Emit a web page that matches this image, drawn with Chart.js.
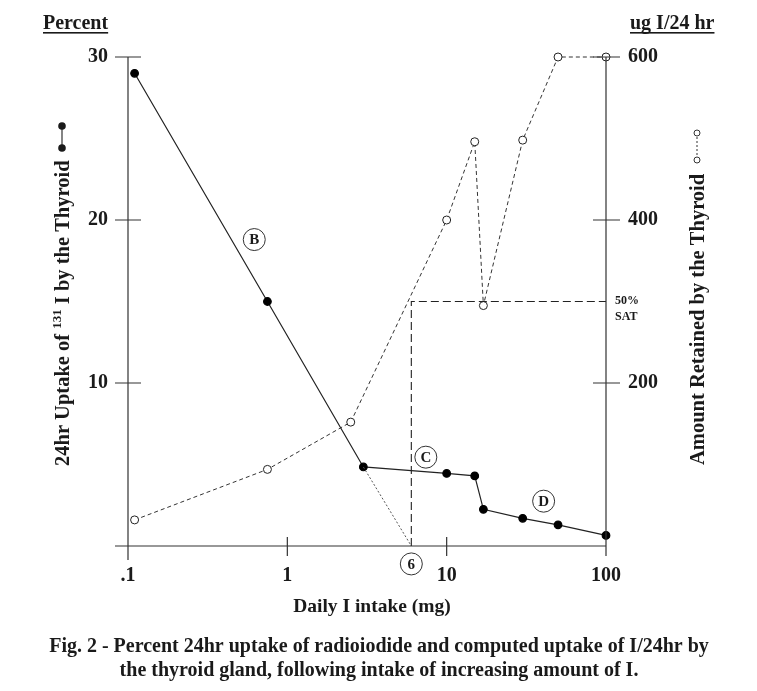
<!DOCTYPE html>
<html>
<head>
<meta charset="utf-8">
<script src="https://cdn.jsdelivr.net/npm/chart.js@4/dist/chart.umd.min.js"></script>
<style>
  body { margin: 0; background: #fff; }
  #wrap { width: 757px; height: 691px; }
</style>
</head>
<body>
<div id="wrap"><canvas id="chart" width="757" height="691"></canvas></div>
<script>
// --- Data ---
const uptakeDose = [0.11, 0.75, 3, 10, 15, 17, 30, 50, 100];       // mg / day
const uptakePct  = [29, 15, 4.85, 4.45, 4.3, 2.25, 1.7, 1.3, 0.65];  // % 24hr uptake
const retainedDose = [0.11, 0.75, 2.5, 10, 15, 17, 30, 50, 100];
const retainedUg   = [32, 94, 152, 400, 496, 295, 498, 600, 600];    // ug I / 24hr
const extrapDose = [3, 6];
const extrapPct  = [4.85, 0];
const satDose = [6, 6, 100];
const satUg   = [0, 300, 300];
const xTicks = [0.1, 1, 10, 100];
const xTickLabels = ['.1', '1', '10', '100'];
const yTicks = [10, 20, 30];
const y2Ticks = [200, 400, 600];
const markLabels = ['B', 'C', 'D', '6'];
const markDose = [0.62, 7.4, 40.6, 6];
const markPct  = [18.8, 5.45, 2.75, -1.1];

const pts = (xs, ys) => xs.map((x, i) => ({ x: x, y: ys[i] }));
const SERIF = '"Liberation Serif", "DejaVu Serif", serif';
const INK = '#1a1a1a';

// axes, ticks, titles, caption
const decor = {
    id: 'decor',
    afterDraw(chart) {
        const ctx = chart.ctx;
        const x = chart.scales.x, y = chart.scales.y, y2 = chart.scales.y2;
        const a = chart.chartArea;
        ctx.save();
        ctx.strokeStyle = '#333';
        ctx.lineWidth = 1.2;
        ctx.setLineDash([]);
        ctx.beginPath();
        // left axis
        ctx.moveTo(a.left, a.top); ctx.lineTo(a.left, a.bottom + 14);
        // bottom axis
        ctx.moveTo(a.left - 13, a.bottom); ctx.lineTo(a.right, a.bottom);
        // right axis
        ctx.moveTo(a.right, a.top); ctx.lineTo(a.right, a.bottom + 10);
        yTicks.forEach(v => { const p = y.getPixelForValue(v); ctx.moveTo(a.left - 13, p); ctx.lineTo(a.left + 13, p); });
        y2Ticks.forEach(v => { const p = y2.getPixelForValue(v); ctx.moveTo(a.right - 13, p); ctx.lineTo(a.right + 14, p); });
        xTicks.slice(1, 3).forEach(v => { const p = x.getPixelForValue(v); ctx.moveTo(p, a.bottom - 9); ctx.lineTo(p, a.bottom + 10); });
        ctx.stroke();

        ctx.fillStyle = INK;
        ctx.font = 'bold 20px ' + SERIF;
        ctx.textBaseline = 'middle';
        ctx.textAlign = 'right';
        yTicks.forEach(v => ctx.fillText(String(v), a.left - 20, y.getPixelForValue(v)));
        ctx.textAlign = 'left';
        y2Ticks.forEach(v => ctx.fillText(String(v), a.right + 22, y2.getPixelForValue(v)));
        ctx.textAlign = 'center';
        xTicks.forEach((v, i) => ctx.fillText(xTickLabels[i], x.getPixelForValue(v), a.bottom + 30));

        // unit headers, underlined
        ctx.textAlign = 'left';
        ctx.textBaseline = 'alphabetic';
        const under = (t, tx, ty) => {
            ctx.fillText(t, tx, ty);
            const w = ctx.measureText(t).width;
            ctx.fillRect(tx, ty + 3, w, 1.6);
        };
        under('Percent', 43, 29);
        under('ug I/24 hr', 630, 29);

        // x title
        ctx.textAlign = 'center';
        ctx.font = 'bold 19.5px ' + SERIF;
        ctx.fillText('Daily I intake (mg)', 372, 612);

        // caption
        ctx.font = 'bold 20px ' + SERIF;
        ctx.fillText('Fig. 2 - Percent 24hr uptake of radioiodide and computed uptake of I/24hr by', 379, 652);
        ctx.fillText('the thyroid gland, following intake of increasing amount of I.', 379, 676);

        // 50% SAT note
        ctx.font = 'bold 12px ' + SERIF;
        ctx.textAlign = 'left';
        ctx.fillText('50%', 615, 304);
        ctx.fillText('SAT', 615, 320);

        // left rotated title
        ctx.save();
        ctx.translate(69, 466);
        ctx.rotate(-Math.PI / 2);
        ctx.textAlign = 'left';
        let cx = 0;
        const part = (t, f, dy) => { ctx.font = f; ctx.fillText(t, cx, dy); cx += ctx.measureText(t).width; };
        part('24hr Uptake of ', 'bold 20.5px ' + SERIF, 0);
        part('131', 'bold 13px ' + SERIF, -8);
        part(' I by the Thyroid', 'bold 20.5px ' + SERIF, 0);
        ctx.restore();
        // left legend glyph
        ctx.beginPath();
        ctx.moveTo(62, 126); ctx.lineTo(62, 148); ctx.stroke();
        [126, 148].forEach(cy => { ctx.beginPath(); ctx.arc(62, cy, 3.8, 0, Math.PI * 2); ctx.fill(); });

        // right rotated title
        ctx.save();
        ctx.translate(704, 465);
        ctx.rotate(-Math.PI / 2);
        ctx.textAlign = 'left';
        ctx.font = 'bold 20.5px ' + SERIF;
        ctx.fillText('Amount Retained by the Thyroid', 0, 0);
        ctx.restore();
        // right legend glyph
        ctx.lineWidth = 1;
        ctx.setLineDash([2, 2]);
        ctx.beginPath(); ctx.moveTo(697, 137); ctx.lineTo(697, 156); ctx.stroke();
        ctx.setLineDash([]);
        [133, 160].forEach(cy => { ctx.beginPath(); ctx.arc(697, cy, 3, 0, Math.PI * 2); ctx.fillStyle = '#fff'; ctx.fill(); ctx.stroke(); });

        // circled markers
        ctx.fillStyle = INK;
        ctx.font = 'bold 15px ' + SERIF;
        ctx.textAlign = 'center';
        ctx.textBaseline = 'middle';
        markLabels.forEach((t, i) => {
            const px = x.getPixelForValue(markDose[i]);
            const py = y.getPixelForValue(markPct[i]);
            ctx.beginPath();
            ctx.arc(px, py, 11, 0, Math.PI * 2);
            ctx.fillStyle = '#fff'; ctx.fill();
            ctx.strokeStyle = '#333'; ctx.stroke();
            ctx.fillStyle = INK;
            ctx.fillText(t, px, py + 1);
        });
        ctx.restore();
    }
};

new Chart(document.getElementById('chart'), {
    type: 'line',
    data: {
        datasets: [
            { data: pts(satDose, satUg), yAxisID: 'y2', borderColor: '#222', borderWidth: 1.1, borderDash: [8, 4], pointRadius: 0, fill: false, clip: false },
            { data: pts(extrapDose, extrapPct), yAxisID: 'y', borderColor: '#555', borderWidth: 1, borderDash: [2, 2], pointRadius: 0, fill: false, clip: false },
            { data: pts(retainedDose, retainedUg), yAxisID: 'y2', borderColor: '#333', borderWidth: 1, borderDash: [4, 3], pointRadius: 4, pointBackgroundColor: '#fff', pointBorderColor: '#222', pointBorderWidth: 1, fill: false, clip: false },
            { data: pts(uptakeDose, uptakePct), yAxisID: 'y', borderColor: '#222', borderWidth: 1.2, pointRadius: 3.8, pointBackgroundColor: '#000', pointBorderColor: '#000', fill: false, clip: false }
        ]
    },
    options: {
        responsive: false,
        animation: false,
        layout: { padding: { left: 128, right: 151, top: 57, bottom: 145 } },
        plugins: { legend: { display: false }, tooltip: { enabled: false } },
        scales: {
            x: { type: 'logarithmic', min: 0.1, max: 100, display: false },
            y: { type: 'linear', min: 0, max: 30, display: false },
            y2: { type: 'linear', min: 0, max: 600, display: false }
        }
    },
    plugins: [decor]
});
</script>
</body>
</html>
